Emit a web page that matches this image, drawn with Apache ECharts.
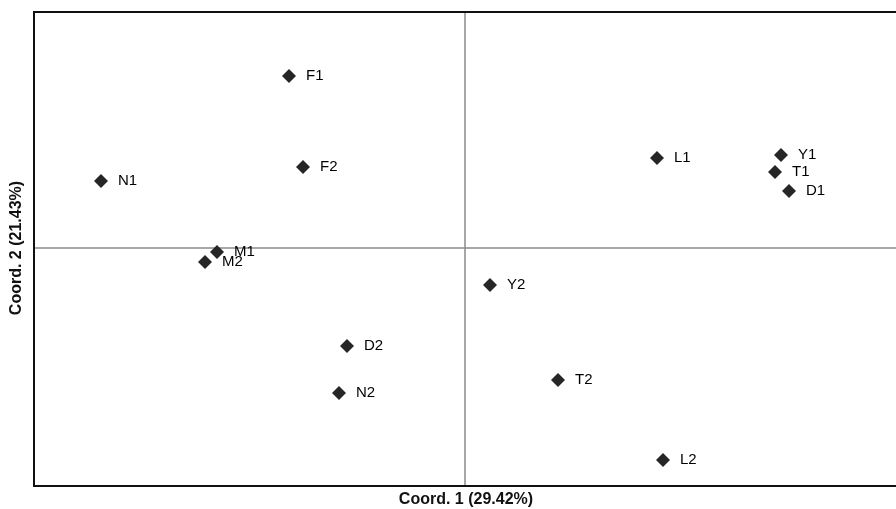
<!DOCTYPE html>
<html>
<head>
<meta charset="utf-8">
<script src="https://cdn.jsdelivr.net/npm/echarts@6/dist/echarts.min.js"></script>
<style>html,body{margin:0;padding:0;background:#fff}#c{width:896px;height:509px}</style>
</head>
<body>
<div id="c"></div>
<script>
const names = ['F1','F2','N1','M1','M2','D2','N2','Y2','T2','L2','L1','Y1','T1','D1'];
const coord1 = [-1.76,-1.62,-3.64,-2.48,-2.60,-1.18,-1.26,0.25,0.93,1.98,1.92,3.16,3.10,3.24];
const coord2 = [1.72,0.81,0.67,-0.04,-0.14,-0.98,-1.45,-0.37,-1.32,-2.12,0.90,0.93,0.76,0.57];
const xTitle = 'Coord. 1 (29.42%)';
const yTitle = 'Coord. 2 (21.43%)';

const chart = echarts.init(document.getElementById('c'));
chart.setOption({
  animation: false,
  grid: {left: 34, right: 0, top: 12, bottom: 23, show: false, containLabel: false},
  xAxis: {type: 'value', min: -4.31, max: 4.31,
    axisLine: {onZero: true, lineStyle: {color: '#8a8a8a', width: 1.5}},
    axisTick: {show: false}, axisLabel: {show: false}, splitLine: {show: false}},
  yAxis: {type: 'value', min: -2.38, max: 2.36,
    axisLine: {onZero: true, lineStyle: {color: '#8a8a8a', width: 1.5}},
    axisTick: {show: false}, axisLabel: {show: false}, splitLine: {show: false}},
  graphic: [
    {type: 'polyline', shape: {points: [[900, 12], [34, 12], [34, 486], [900, 486]]},
      style: {stroke: '#111', lineWidth: 2, fill: null}, z: 10},
    {type: 'text', x: 466, y: 500, style: {text: xTitle, font: 'bold 16px "Liberation Sans"', fill: '#111', align: 'center', verticalAlign: 'middle'}},
    {type: 'text', x: 17, y: 248, rotation: Math.PI/2, style: {text: yTitle, font: 'bold 16px "Liberation Sans"', fill: '#111', align: 'center', verticalAlign: 'middle'}}
  ],
  series: [{
    type: 'scatter',
    symbol: 'diamond',
    symbolSize: 14,
    itemStyle: {color: '#262626', opacity: 1},
    label: {show: true, position: 'right', distance: 10, formatter: p => p.data[2],
      fontFamily: 'Liberation Sans', fontSize: 15, color: '#000', opacity: 1},
    data: names.map((n, i) => [coord1[i], coord2[i], n])
  }]
});
</script>
</body>
</html>
